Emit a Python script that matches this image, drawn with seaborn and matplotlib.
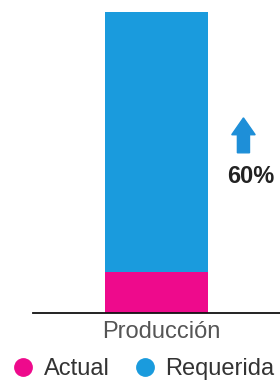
import matplotlib
matplotlib.use("Agg")
import matplotlib.pyplot as plt
import matplotlib.transforms as mtransforms
import seaborn as sns
import pandas as pd
from matplotlib.patches import FancyArrow
from matplotlib.lines import Line2D

categories = ["Producción"]
series = ["Actual", "Requerida"]
actual_values = [13.6]
requerida_values = [100]
annotation_text = "60%"

colors = {"Actual": "#EE0A8C", "Requerida": "#1A9BDD"}

sns.set_theme(style="white")
plt.rcParams["font.family"] = ["Liberation Sans", "DejaVu Sans"]

fig = plt.figure(figsize=(2.8, 3.84), dpi=100)
ax = fig.add_axes([0.118, 0.185, 0.882, 0.784])

df_req = pd.DataFrame({"cat": categories, "val": requerida_values})
df_act = pd.DataFrame({"cat": categories, "val": actual_values})
sns.barplot(data=df_req, x="cat", y="val", color=colors["Requerida"], width=0.42,
            saturation=1, linewidth=0, ax=ax)
sns.barplot(data=df_act, x="cat", y="val", color=colors["Actual"], width=0.42,
            saturation=1, linewidth=0, ax=ax)

ax.set_xlim(-0.5, 0.5)
ax.set_ylim(0, 100)
ax.set_xlabel("")
ax.set_ylabel("")
ax.set_yticks([])
for s in ["top", "right", "left"]:
    ax.spines[s].set_visible(False)
ax.spines["bottom"].set_color("#111111")
ax.spines["bottom"].set_linewidth(1.3)
ax.tick_params(axis="x", length=0, pad=6, labelsize=17, labelcolor="#555555")
offset = mtransforms.ScaledTranslation(0.05, 0, fig.dpi_scale_trans)
for lbl in ax.get_xticklabels():
    lbl.set_transform(lbl.get_transform() + offset)

# arrow and annotation
arrow = FancyArrow(0.852, 0.532, 0, 0.116, width=0.049, head_width=0.095,
                   head_length=0.056, length_includes_head=True,
                   transform=ax.transAxes, color="#1E8FD8", clip_on=False)
ax.add_patch(arrow)
ax.text(0.88, 0.452, annotation_text, transform=ax.transAxes, ha="center", va="center",
        fontsize=17, fontweight="bold", color="#222222", clip_on=False)

handles = [Line2D([0], [0], marker="o", linestyle="", markersize=12.5,
                  markerfacecolor=colors[s], markeredgecolor=colors[s]) for s in series]
fig.legend(handles, series, loc="center", bbox_to_anchor=(0.51, 0.039), ncol=2,
           frameon=False, fontsize=17, handletextpad=0.37, columnspacing=1.0,
           handlelength=1.0, labelcolor="#333333", borderpad=0.1)

fig.savefig("out.png", dpi=100)
